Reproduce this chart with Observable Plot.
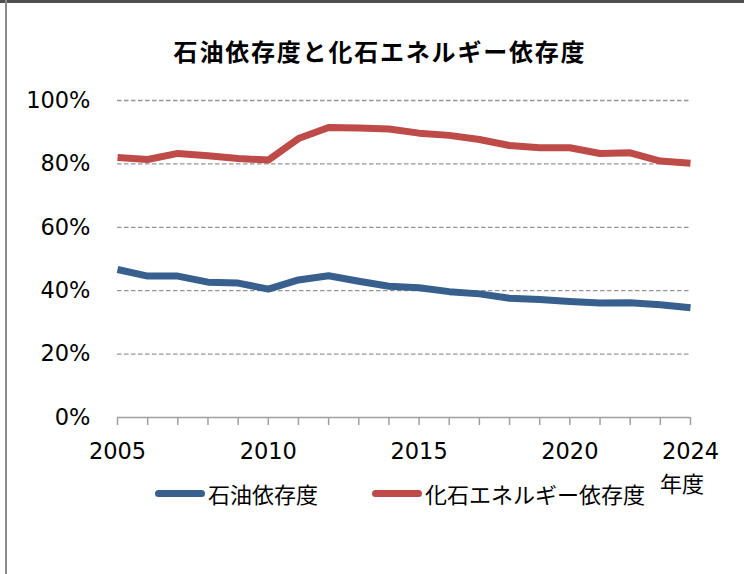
<!DOCTYPE html>
<html>
<head>
<meta charset="utf-8">
<script src="https://cdn.jsdelivr.net/npm/d3@7"></script>
<script src="https://cdn.jsdelivr.net/npm/@observablehq/plot@0.6"></script>
<style>
  html, body { margin: 0; padding: 0; background: #fff; }
  #wrap { position: relative; width: 744px; height: 574px; overflow: hidden; background: #fff; }
  #wrap svg { position: absolute; left: 0; top: 0; }
  .frameTop { position: absolute; left: 0; top: 0; width: 744px; height: 3px; background: #505050; }
  .frameLeft { position: absolute; left: 5px; top: 0; width: 2px; height: 574px; background: #8a8a8a; }
  .title { position: absolute; left: 0; width: 760px; top: 34px; text-align: center;
           font-family: "Noto Sans CJK JP", sans-serif; font-weight: 700; font-size: 24px;
           letter-spacing: 1.8px; color: #000; line-height: 34px; }
  .leg { position: absolute; font-family: "Noto Sans CJK JP", sans-serif; font-size: 22px; color: #000;
         line-height: 28px; white-space: nowrap; }
  .sw { position: absolute; height: 7px; border-radius: 4px; }
</style>
</head>
<body>
<div id="wrap"></div>
<script>
// ---- data ----
const years = [2005, 2006, 2007, 2008, 2009, 2010, 2011, 2012, 2013, 2014,
               2015, 2016, 2017, 2018, 2019, 2020, 2021, 2022, 2023, 2024];
const oilDependence = [0.467, 0.446, 0.446, 0.427, 0.424, 0.405, 0.434, 0.447, 0.430, 0.414,
                       0.409, 0.397, 0.390, 0.376, 0.372, 0.366, 0.361, 0.362, 0.356, 0.346];
const fossilDependence = [0.820, 0.814, 0.833, 0.826, 0.817, 0.812, 0.880, 0.915, 0.913, 0.910,
                          0.897, 0.890, 0.877, 0.858, 0.851, 0.851, 0.833, 0.835, 0.809, 0.802];
const seriesNames = ["石油依存度", "化石エネルギー依存度"];
const seriesColors = ["#37608f", "#be4b48"];
const yTicks = [0, 0.2, 0.4, 0.6, 0.8, 1.0];
const xLabelYears = [2005, 2010, 2015, 2020, 2024];
const titleText = "石油依存度と化石エネルギー依存度";
const xUnit = "年度";

const rows = [];
years.forEach((yr, i) => {
  rows.push({year: yr, value: oilDependence[i], series: seriesNames[0]});
  rows.push({year: yr, value: fossilDependence[i], series: seriesNames[1]});
});

const chart = Plot.plot({
  width: 744,
  height: 574,
  marginLeft: 117,
  marginRight: 54,
  marginTop: 100,
  marginBottom: 157,
  style: { fontFamily: "DejaVu Sans, Verdana, sans-serif", fontSize: "22.5px", color: "#000", background: "transparent" },
  x: { domain: [2005, 2024], label: null },
  y: { domain: [0, 1], label: null },
  color: { domain: seriesNames, range: seriesColors },
  marks: [
    Plot.ruleY(yTicks.filter(d => d > 0), { stroke: "#959595", strokeWidth: 1.3, strokeDasharray: "4.5,2.5" }),
    Plot.ruleY([0], { stroke: "#a0a0a0", strokeWidth: 1.5 }),
    Plot.axisX({ ticks: years, tickSize: 8, tickFormat: () => "", stroke: "#a0a0a0", strokeWidth: 1.5, label: null }),
    Plot.axisX({ ticks: xLabelYears, tickSize: 0, tickPadding: 26, tickFormat: d => String(d), label: null, fill: "#000" }),
    Plot.axisY({ ticks: yTicks, tickSize: 0, tickPadding: 27, tickFormat: d => Math.round(d * 100) + "%", label: null, fill: "#000" }),
    Plot.line(rows, { x: "year", y: "value", z: "series", stroke: "series", strokeWidth: 7, strokeLinejoin: "round", strokeLinecap: "butt" })
  ]
});

const wrap = document.getElementById("wrap");
wrap.appendChild(chart);

function add(cls, text, css) {
  const d = document.createElement("div");
  d.className = cls;
  if (text) d.textContent = text;
  Object.assign(d.style, css || {});
  wrap.appendChild(d);
  return d;
}
add("frameTop");
add("frameLeft");
add("title", titleText);
// legend
add("sw", null, { left: "155px", top: "490px", width: "50px", background: seriesColors[0] });
add("leg", seriesNames[0], { left: "208px", top: "479px" });
add("sw", null, { left: "372px", top: "490px", width: "50px", background: seriesColors[1] });
add("leg", seriesNames[1], { left: "425px", top: "479px" });
add("leg", xUnit, { left: "660px", top: "468px" });
</script>
</body>
</html>
